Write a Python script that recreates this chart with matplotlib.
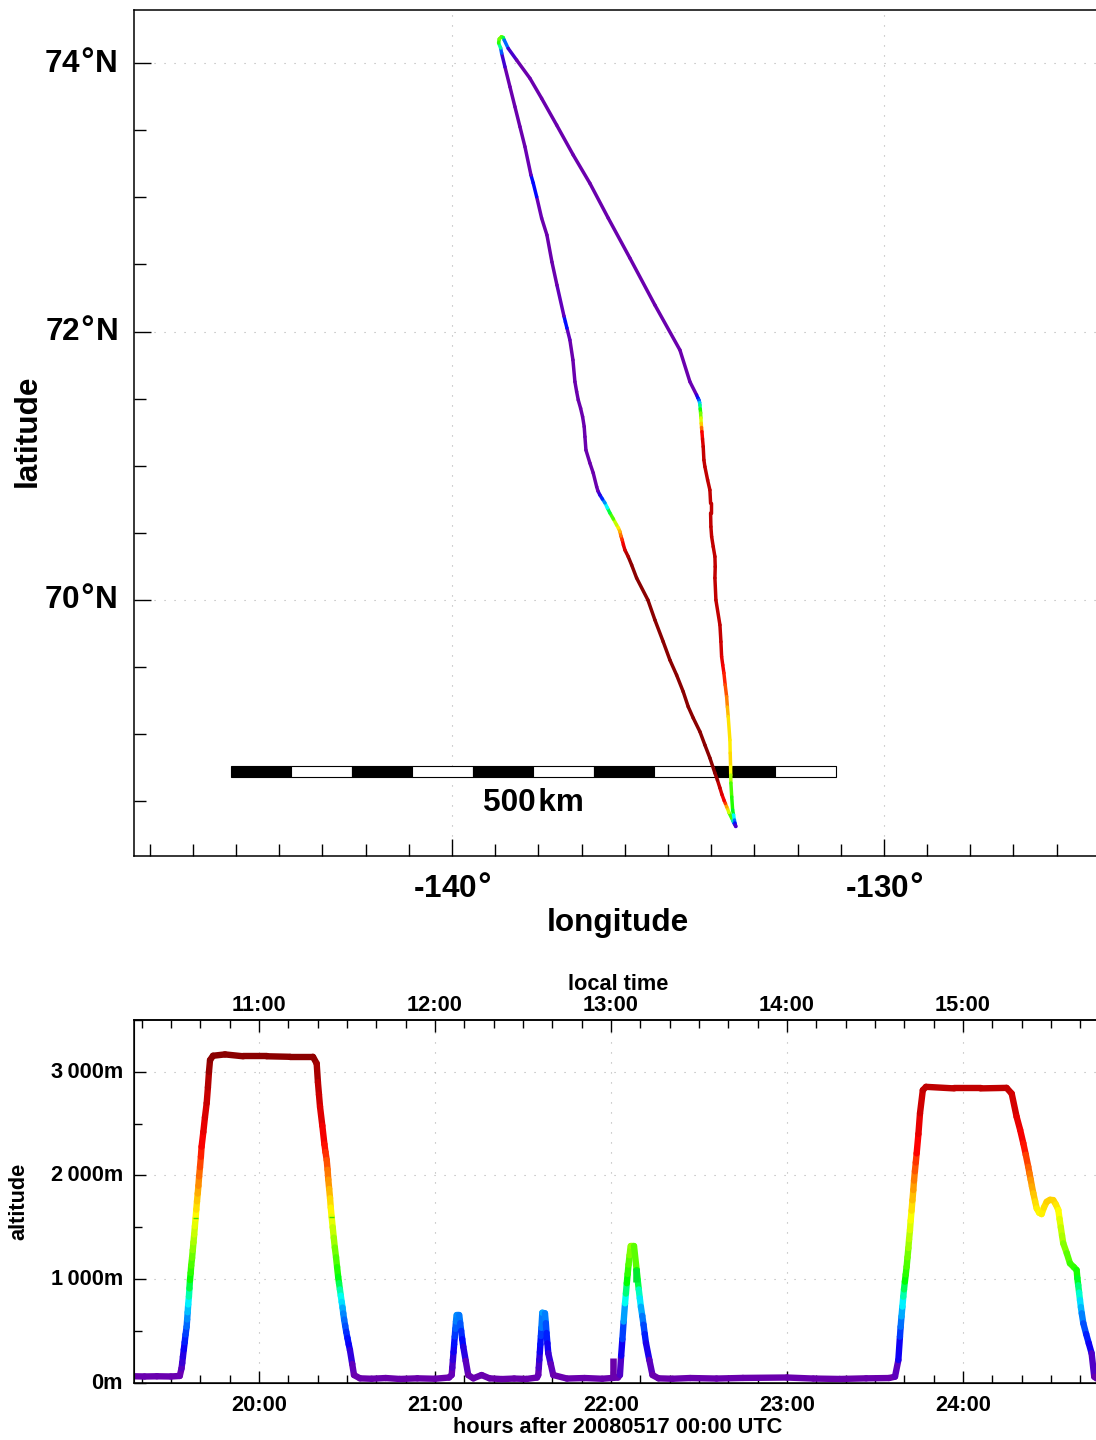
import numpy as np
import matplotlib
matplotlib.use('Agg')
import matplotlib.pyplot as plt
from matplotlib.collections import LineCollection
from matplotlib.colors import LinearSegmentedColormap, Normalize
from matplotlib.patches import Rectangle
from matplotlib.ticker import MultipleLocator
from matplotlib.transforms import ScaledTranslation

plt.rcParams['font.family'] = ['Liberation Sans', 'DejaVu Sans']
plt.rcParams['font.weight'] = 'bold'
plt.rcParams['mathtext.default'] = 'regular'
plt.rcParams['mathtext.fontset'] = 'dejavusans'

# flight track on the map, leg by leg (altitude gives the colour)
leg1_lon = [-133.43, -133.472, -133.495, -133.525, -133.588, -133.622, -133.641, -133.669, -133.697, -133.750,
            -133.796, -133.854, -133.912, -134.028, -134.144, -134.259, -134.414, -134.530, -134.646, -134.799,
            -134.954, -135.109, -135.301, -135.463, -135.725, -135.840, -135.919]
leg1_lat = [68.313, 68.339, 68.354, 68.376, 68.417, 68.447, 68.460, 68.484, 68.505, 68.551,
            68.600, 68.659, 68.711, 68.823, 68.920, 69.019, 69.121, 69.205, 69.317, 69.441,
            69.553, 69.689, 69.851, 70.0, 70.164, 70.261, 70.323]
leg1_alt = [50, 370, 750, 1000, 1300, 1700, 1800, 2000, 2300, 2500,
            2700, 2950, 3150, 3150, 3150, 3150, 3150, 3150, 3150, 3150,
            3150, 3150, 3150, 3150, 3150, 3150, 3100]

leg2_lon = [-135.995, -136.030, -136.058, -136.088, -136.111, -136.146, -136.188, -136.262, -136.343, -136.400,
            -136.458, -136.516, -136.574, -136.620, -136.650, -136.729, -136.806, -136.898, -136.921, -136.938,
            -136.975, -137.021, -137.076, -137.113, -137.153, -137.199, -137.269]
leg2_lat = [70.372, 70.410, 70.447, 70.477, 70.509, 70.536, 70.559, 70.603, 70.648, 70.685,
            70.723, 70.752, 70.782, 70.812, 70.844, 70.946, 71.020, 71.117, 71.216, 71.291,
            71.365, 71.428, 71.490, 71.552, 71.626, 71.788, 71.937]
leg2_alt = [2700, 2500, 2300, 2100, 1900, 1750, 1600, 1300, 1050, 850,
            750, 550, 350, 150, 50, 50, 50, 50, 50, 50,
            50, 50, 50, 50, 50, 50, 50]

leg3_lon = [-137.338, -137.373, -137.407, -137.569, -137.685, -137.801, -137.924, -138.039, -138.118, -138.171,
            -138.310, -138.426, -138.542, -138.657, -138.773, -138.850, -138.873, -138.919, -138.905, -138.854,
            -138.812, -138.789, -138.697, -138.502]
leg3_lat = [72.026, 72.071, 72.115, 72.346, 72.518, 72.719, 72.845, 73.004, 73.106, 73.166,
            73.377, 73.526, 73.675, 73.823, 73.972, 74.074, 74.112, 74.149, 74.179, 74.196,
            74.190, 74.171, 74.109, 74.022]
leg3_alt = [200, 600, 200, 50, 50, 50, 50, 150, 620, 150,
            50, 50, 50, 50, 80, 350, 750, 1000, 1200, 1300,
            1100, 800, 350, 50]

leg4_lon = [-138.194, -137.924, -137.576, -137.192, -136.806, -136.382, -135.880, -135.301, -134.722, -134.491,
            -134.336, -134.306, -134.282, -134.266, -134.259, -134.252, -134.243, -134.236, -134.229, -134.222,
            -134.213, -134.199, -134.183, -134.167, -134.144, -134.081, -134.028, -134.012, -134.012, -134.005,
            -133.988, -133.951, -133.912, -133.905, -133.912]
leg4_lat = [73.886, 73.737, 73.538, 73.315, 73.104, 72.845, 72.547, 72.197, 71.862, 71.626,
            71.527, 71.505, 71.490, 71.471, 71.453, 71.423, 71.393, 71.356, 71.316, 71.285,
            71.254, 71.199, 71.142, 71.043, 70.993, 70.894, 70.819, 70.720, 70.648, 70.546,
            70.472, 70.397, 70.323, 70.248, 70.164]
leg4_alt = [50, 50, 50, 50, 50, 50, 50, 50, 50, 50,
            150, 350, 450, 650, 800, 1000, 1150, 1400, 1650, 1900,
            2200, 2500, 2750, 2840, 2840, 2840, 2840, 2840, 2840, 2840,
            2840, 2840, 2840, 2840, 2840]

leg5_lon = [-133.889, -133.796, -133.773, -133.757, -133.731, -133.704, -133.674, -133.641, -133.623, -133.604,
            -133.565, -133.558, -133.549, -133.546, -133.542, -133.523, -133.502, -133.481, -133.461, -133.449,
            -133.438, -133.426]
leg5_lat = [70.0, 69.814, 69.689, 69.578, 69.516, 69.456, 69.367, 69.280, 69.203, 69.131,
            68.957, 68.860, 68.758, 68.696, 68.637, 68.533, 68.436, 68.399, 68.361, 68.339,
            68.324, 68.313]
leg5_alt = [2840, 2840, 2800, 2600, 2450, 2300, 2150, 2050, 1900, 1750,
            1650, 1700, 1750, 1500, 1250, 1100, 1050, 900, 700, 500,
            300, 100]

# altitude profile, piece by piece
part1_hours = [19.29, 19.35, 19.42, 19.50, 19.55, 19.56, 19.564, 19.568, 19.573, 19.578, 19.583, 19.589,
               19.592, 19.595, 19.598, 19.602, 19.605, 19.608, 19.612, 19.615, 19.62, 19.624, 19.628, 19.632,
               19.636, 19.64, 19.644, 19.648, 19.652, 19.656, 19.66, 19.665, 19.67, 19.674, 19.684, 19.693,
               19.703, 19.71, 19.716, 19.722, 19.739, 19.807, 19.91, 20.044, 20.176]
part1_alt = [62, 60, 62, 60, 65, 138, 190, 250, 320, 390, 465, 540,
             610, 680, 755, 830, 910, 990, 1060, 1130, 1205, 1280, 1355, 1430,
             1510, 1586, 1670, 1750, 1825, 1900, 1990, 2080, 2180, 2277, 2420, 2560,
             2698, 2850, 3000, 3113, 3155, 3168, 3150, 3150, 3145]

part2_hours = [20.307, 20.328, 20.335, 20.341, 20.347, 20.36, 20.372, 20.378, 20.385, 20.39, 20.394, 20.399,
               20.404, 20.408, 20.413, 20.419, 20.425, 20.431, 20.438, 20.444, 20.45, 20.455, 20.46, 20.465,
               20.47, 20.475, 20.479, 20.484, 20.49, 20.496, 20.503, 20.51, 20.517, 20.53, 20.54, 20.574,
               20.64, 20.72, 20.8, 20.9, 21.0, 21.08]
part2_alt = [3145, 3080, 2900, 2780, 2662, 2480, 2300, 2225, 2148, 2055, 1960, 1870,
             1780, 1690, 1601, 1500, 1400, 1305, 1210, 1115, 1022, 960, 900, 840,
             780, 725, 669, 610, 550, 490, 430, 370, 315, 180, 74, 42,
             38, 45, 36, 42, 38, 50]

part3_hours = [21.095, 21.0985, 21.102, 21.1055, 21.109, 21.1125, 21.116, 21.1195, 21.123, 21.138, 21.1435,
               21.149, 21.155, 21.161, 21.175, 21.189, 21.218, 21.265, 21.31, 21.38, 21.45, 21.52, 21.58]
part3_alt = [74, 145, 220, 295, 370, 445, 520, 590, 653, 653, 575,
             500, 420, 347, 210, 74, 42, 74, 42, 35, 40, 36, 50]

part4_hours = [21.587, 21.59, 21.593, 21.596, 21.599, 21.602, 21.605, 21.61, 21.625, 21.63, 21.634, 21.639,
               21.644, 21.658, 21.672, 21.75, 21.85, 21.95, 22.04]
part4_alt = [74, 145, 220, 295, 370, 450, 530, 675, 670, 575, 480, 380,
             284, 180, 74, 40, 45, 38, 50]

part5_hours = [22.051, 22.058, 22.065, 22.072, 22.08, 22.085, 22.09, 22.095, 22.10, 22.106, 22.112, 22.131,
               22.146, 22.152, 22.158, 22.164, 22.17, 22.178, 22.185, 22.192, 22.199, 22.218, 22.236, 22.27,
               22.35, 22.45, 22.6, 22.75, 23.0, 23.15, 23.3, 23.45, 23.58]
part5_alt = [74, 260, 420, 590, 766, 860, 960, 1050, 1140, 1230, 1319, 1319,
             1087, 990, 900, 815, 733, 645, 560, 470, 383, 220, 74, 42,
             38, 45, 40, 46, 50, 40, 36, 42, 45]

part6_hours = [23.614, 23.633, 23.642, 23.646, 23.651, 23.656, 23.661, 23.665, 23.67, 23.675, 23.68, 23.685,
               23.69, 23.694, 23.699, 23.703, 23.708, 23.713, 23.718, 23.722, 23.727, 23.732, 23.737, 23.747,
               23.756, 23.772, 23.79, 23.95, 24.1]
part6_alt = [58, 219, 444, 540, 640, 735, 830, 900, 975, 1045, 1119, 1210,
             1300, 1385, 1473, 1565, 1660, 1760, 1859, 1950, 2040, 2125, 2213, 2400,
             2600, 2823, 2855, 2840, 2840]

part7_hours = [24.248, 24.277, 24.305, 24.325, 24.343, 24.357, 24.371, 24.378, 24.385, 24.392, 24.4, 24.41,
               24.419, 24.433, 24.447, 24.46, 24.476, 24.495, 24.513, 24.528, 24.542, 24.549, 24.556, 24.563,
               24.57, 24.59, 24.608, 24.63, 24.646, 24.65, 24.655, 24.66, 24.665, 24.67, 24.675, 24.684,
               24.70, 24.715, 24.731, 24.746, 24.76]
part7_alt = [2845, 2790, 2566, 2440, 2310, 2200, 2084, 2020, 1960, 1895, 1827, 1750,
             1682, 1640, 1627, 1690, 1746, 1765, 1762, 1720, 1666, 1580, 1500, 1420,
             1345, 1250, 1152, 1115, 1087, 1010, 940, 870, 798, 730, 670, 573,
             470, 380, 284, 58, 40]

spike_hour = [22.01]
spike_alt = [235]
block_hour = [22.14]
block_low = [970]
block_high = [1105]
sliver_hours = [19.64, 20.413]
sliver_alt = [1586, 1601]

track_lon = leg1_lon + leg2_lon + leg3_lon + leg4_lon + leg5_lon
track_lat = leg1_lat + leg2_lat + leg3_lat + leg4_lat + leg5_lat
track_alt = leg1_alt + leg2_alt + leg3_alt + leg4_alt + leg5_alt
profile_hours = part1_hours + part2_hours + part3_hours + part4_hours + part5_hours + part6_hours + part7_hours
profile_alt = part1_alt + part2_alt + part3_alt + part4_alt + part5_alt + part6_alt + part7_alt

# ticks and labels
lon_ticks = [-140, -130]
lat_ticks = [70, 72, 74]
utc_hours = [20, 21, 22, 23, 24]
utc_labels = ['20:00', '21:00', '22:00', '23:00', '24:00']
local_labels = ['11:00', '12:00', '13:00', '14:00', '15:00']
alt_ticks = [0, 1000, 2000, 3000]
alt_labels = ['0m', '1\u2009000m', '2\u2009000m', '3\u2009000m']

W, H = 1096, 1440

# colour runs with altitude
stops = [(0, '#6a00a8'), (100, '#6a00b4'), (370, '#0000ff'), (650, '#0090ff'), (800, '#00ffff'),
         (1000, '#00ff00'), (1350, '#a0ff00'), (1620, '#ffff00'), (1900, '#ffa000'), (2300, '#ff0000'),
         (2850, '#c00000'), (3150, '#8b0000'), (3500, '#8b0000')]
cmap = LinearSegmentedColormap.from_list('alt', [(a / 3500, c) for a, c in stops])
norm = Normalize(0, 3500)


def coloured_line(ax, x, y, alt, lw):
    pts = np.column_stack([x, y]).reshape(-1, 1, 2)
    segs = np.concatenate([pts[:-1], pts[1:]], axis=1)
    alt = np.asarray(alt, dtype=float)
    lc = LineCollection(segs, cmap=cmap, norm=norm, linewidths=lw, capstyle='round', zorder=5)
    lc.set_array((alt[:-1] + alt[1:]) / 2)
    ax.add_collection(lc)


def style_grid(ax):
    ax.grid(True, which='major', color='#b0b0b0', linewidth=0.8, linestyle=(0, (1, 8)))
    ax.set_axisbelow(True)
    ax.spines['right'].set_visible(False)
    for s in ax.spines.values():
        s.set_linewidth(1.1)


def raise_labels(labels, px):
    for lab in labels:
        lab.set_transform(lab.get_transform() + ScaledTranslation(0, px / 100, fig.dpi_scale_trans))


fig = plt.figure(figsize=(W / 100, H / 100), dpi=100)

# mapa
ax = fig.add_axes([134 / W, 1 - 856 / H, 1 - 134 / W, 846 / H])
ax.set_xlim(-147.36, -125.09)
ax.set_ylim(68.093, 74.395)
style_grid(ax)
ax.set_xticks(lon_ticks)
ax.set_xticklabels([f'{v}$\\mathrm{{\u00b0}}$' for v in lon_ticks], fontsize=22.7)
ax.set_yticks(lat_ticks)
ax.set_yticklabels([f'{v}$\\mathrm{{\u00b0}}$N' for v in lat_ticks], fontsize=22.7)
ax.xaxis.set_minor_locator(MultipleLocator(1))
ax.yaxis.set_minor_locator(MultipleLocator(0.5))
ax.tick_params(which='major', direction='in', length=12, width=1, right=False, top=False)
ax.tick_params(which='minor', direction='in', length=8.6, width=1, right=False, top=False)
ax.tick_params(axis='x', which='major', pad=13)
ax.tick_params(axis='y', which='major', pad=12)
raise_labels(ax.get_yticklabels(), 3)

# barra de escala
scale_start = -145.116
scale_step = 1.4005
scale_bottom = 68.682
scale_top = 68.763
for i in range(10):
    ax.add_patch(Rectangle((scale_start + i * scale_step, scale_bottom), scale_step, scale_top - scale_bottom,
                           facecolor='black' if i % 2 == 0 else 'white', edgecolor='black', linewidth=0.8, zorder=3))
ax.text(scale_start + 5 * scale_step, 68.485, '500\u200akm', ha='center', va='center', fontsize=22.7)

coloured_line(ax, track_lon, track_lat, track_alt, 2.5)

fig.text(618 / W, 1 - 922.5 / H, 'longitude', ha='center', va='center', fontsize=22.7)
fig.text(28 / W, 1 - 431 / H, 'latitude', ha='center', va='center', rotation=90, fontsize=22.7)

# altitud
ax2 = fig.add_axes([134 / W, 1 - 1382.7 / H, 1 - 134 / W, 362.7 / H])
ax2.set_xlim(19.29, 24.756)
ax2.set_ylim(0, 3500)
style_grid(ax2)
ax2.set_xticks(utc_hours)
ax2.set_xticklabels(utc_labels, fontsize=15.7)
ax2.set_yticks(alt_ticks)
ax2.set_yticklabels(alt_labels, fontsize=15.7)
ax2.xaxis.set_minor_locator(MultipleLocator(1 / 6))
ax2.yaxis.set_minor_locator(MultipleLocator(500))
ax2.tick_params(which='major', direction='in', length=8.5, width=1, right=False, top=False)
ax2.tick_params(which='minor', direction='in', length=5.8, width=1, right=False, top=False)
ax2.tick_params(axis='x', which='major', pad=8.5)
ax2.tick_params(axis='y', which='major', pad=8)
raise_labels(ax2.get_yticklabels(), 2)

ax2.vlines(spike_hour, 50, spike_alt, colors='#6a00a8', linewidth=4.7, zorder=5)
coloured_line(ax2, profile_hours, profile_alt, profile_alt, 4.6)
ax2.vlines(block_hour, block_low, block_high, colors='#00e830', linewidth=4.7, zorder=6)
ax2.hlines(sliver_alt, [h - 0.016 for h in sliver_hours], [h + 0.016 for h in sliver_hours],
           colors='#40e000', linewidth=1.0, zorder=6)

top = ax2.twiny()
top.set_xlim(ax2.get_xlim())
top.set_xticks(utc_hours)
top.set_xticklabels(local_labels, fontsize=15.7)
top.xaxis.set_minor_locator(MultipleLocator(1 / 6))
top.tick_params(which='major', direction='in', length=8.5, width=1, pad=3)
top.tick_params(which='minor', direction='in', length=5.8, width=1)
top.spines['right'].set_visible(False)
top.spines['top'].set_linewidth(1.1)

fig.text(618 / W, 1 - 984 / H, 'local time', ha='center', va='center', fontsize=15.7)
fig.text(618 / W, 1 - 1427.5 / H, 'hours after 20080517 00:00 UTC', ha='center', va='center', fontsize=15.7)
fig.text(18.5 / W, 1 - 1201 / H, 'altitude', ha='center', va='center', rotation=90, fontsize=15.7)

fig.savefig('out.png', dpi=100)
